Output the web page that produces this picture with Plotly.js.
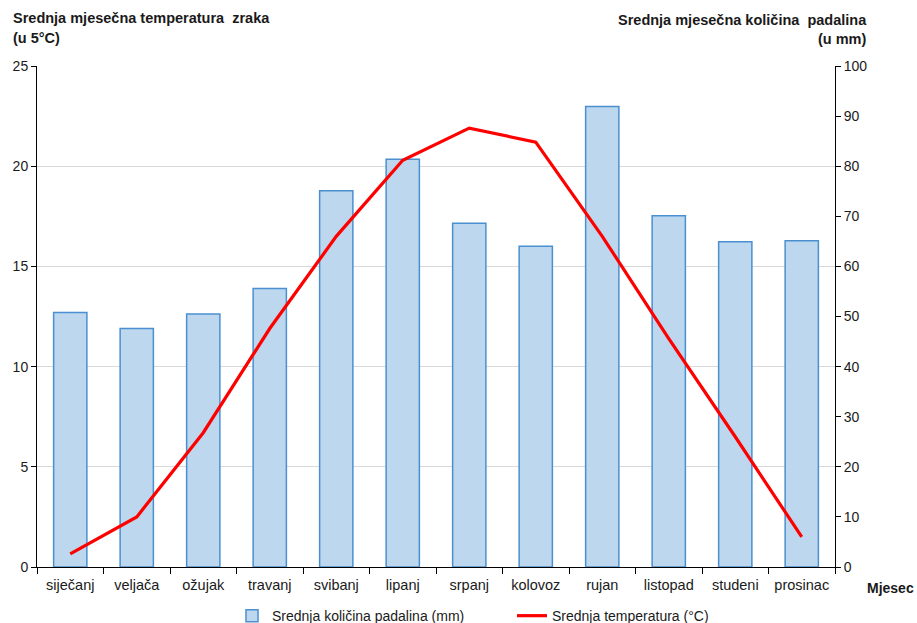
<!DOCTYPE html>
<html>
<head>
<meta charset="utf-8">
<script src="https://cdn.plot.ly/plotly-3.0.1.min.js"></script>
<style>html,body{margin:0;padding:0;background:#fff;}#chart{width:917px;height:623px;}</style>
</head>
<body>
<div id="chart"></div>
<script>
const months = ["siječanj","veljača","ožujak","travanj","svibanj","lipanj","srpanj","kolovoz","rujan","listopad","studeni","prosinac"];
const precipitation = [50.8, 47.6, 50.5, 55.6, 75.1, 81.4, 68.6, 64.0, 91.9, 70.1, 64.9, 65.1];
const temperature = [0.65, 2.5, 6.7, 11.9, 16.5, 20.3, 21.9, 21.2, 16.5, 11.4, 6.5, 1.5];
const precipName = "Srednja količina padalina (mm)";
const tempName = "Srednja temperatura (°C)";

const fontFam = "Liberation Sans, Arial, sans-serif";
const txt = "#1a1a1a";

const traces = [
  {
    type: "bar", x: months, y: precipitation, yaxis: "y", name: precipName,
    width: 0.5,
    marker: {color: "#BDD7EE", line: {color: "#4A90D0", width: 1.5}},
    hoverinfo: "skip"
  },
  {
    type: "scatter", mode: "lines", x: months, y: temperature, yaxis: "y2", name: tempName,
    line: {color: "#FF0000", width: 3.2},
    hoverinfo: "skip"
  }
];

const layout = {
  width: 917, height: 623,
  margin: {l: 37, r: 82, t: 66, b: 56, autoexpand: false},
  paper_bgcolor: "#fff", plot_bgcolor: "#fff",
  font: {family: fontFam, size: 14, color: txt},
  showlegend: true,
  legend: {orientation: "h", x: (232-37)/798, xanchor: "left", y: -0.066, yanchor: "top",
           font: {size: 14, color: txt}, traceorder: "normal", itemwidth: 30,
           entrywidth: 235, entrywidthmode: "pixels"},
  xaxis: {
    type: "category", showline: true, linecolor: "#000", linewidth: 1,
    ticks: "outside", ticklen: 6, tickcolor: "#000", tickson: "boundaries",
    showgrid: false, zeroline: false, fixedrange: true, ticklabelstandoff: 5,
    tickfont: {size: 14.5, color: txt}, automargin: false
  },
  yaxis: {
    range: [0, 100], dtick: 10, side: "right",
    showline: true, linecolor: "#000", linewidth: 1,
    ticks: "outside", ticklen: 5, tickcolor: "#000",
    showgrid: false, zeroline: false,
    tickfont: {size: 14, color: txt}, fixedrange: true, automargin: false
  },
  yaxis2: {
    range: [0, 25], dtick: 5, overlaying: "y", side: "left",
    showline: true, linecolor: "#000", linewidth: 1,
    ticks: "outside", ticklen: 5, tickcolor: "#000",
    showgrid: true, gridcolor: "#D9D9D9", gridwidth: 1, zeroline: false,
    tickfont: {size: 14, color: txt}, fixedrange: true, automargin: false
  },
  annotations: [
    {text: "<b>Srednja mjesečna temperatura  zraka</b>", xref: "paper", yref: "paper",
     x: (11-37)/798, y: 1 + (66-18)/501, xanchor: "left", yanchor: "middle", showarrow: false,
     font: {size: 14.5, color: txt}},
    {text: "<b>(u 5°C)</b>", xref: "paper", yref: "paper",
     x: (11-37)/798, y: 1 + (66-38)/501, xanchor: "left", yanchor: "middle", showarrow: false,
     font: {size: 14.5, color: txt}},
    {text: "<b>Srednja mjesečna količina  padalina</b>", xref: "paper", yref: "paper",
     x: (869-37)/798, y: 1 + (66-20)/501, xanchor: "right", yanchor: "middle", showarrow: false,
     font: {size: 14.5, color: txt}},
    {text: "<b>(u mm)</b>", xref: "paper", yref: "paper",
     x: (869-37)/798, y: 1 + (66-39)/501, xanchor: "right", yanchor: "middle", showarrow: false,
     font: {size: 14.5, color: txt}},
    {text: "<b>Mjesec</b>", xref: "paper", yref: "paper",
     x: (916-37)/798, y: -(588-567)/501, xanchor: "right", yanchor: "middle", showarrow: false,
     font: {size: 14, color: txt}}
  ]
};

Plotly.newPlot("chart", traces, layout, {displayModeBar: false, staticPlot: true});
</script>
</body>
</html>
